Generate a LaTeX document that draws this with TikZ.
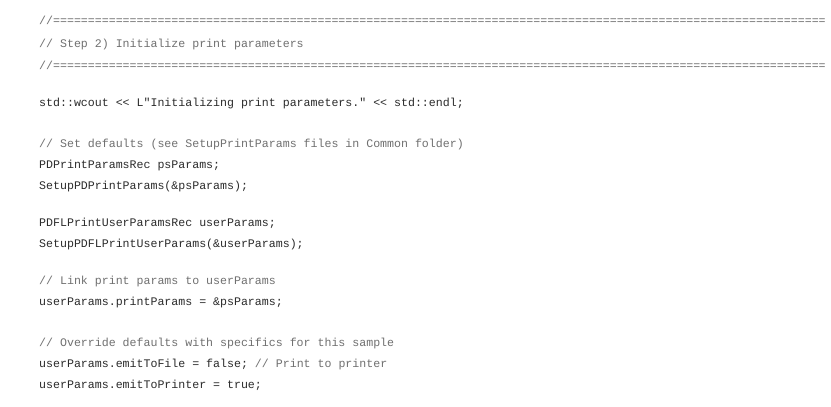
\documentclass[tikz,border=0pt]{standalone}
\usepackage{fontspec}
\newfontfamily\codefont{Liberation Mono}
\definecolor{cmtgray}{HTML}{707070}
\definecolor{codedark}{HTML}{2B2B2B}
\tikzset{
  codeline/.style={anchor=base west, inner sep=0pt, text=codedark, font=\codefont\fontsize{11.6}{14}\selectfont},
  cmtline/.style={codeline, text=cmtgray},
}
\begin{document}
\begin{tikzpicture}[x=1pt,y=-1pt]
  \useasboundingbox[fill=white] (0,0) rectangle (831,407);
  \clip (0,0) rectangle (824,407);
  % header comment
  \node[cmtline] (l1) at (39,24) {//===============================================================================================================};
  \node[cmtline] (l2) at (39,47) {// Step 2) Initialize print parameters};
  \node[cmtline] (l3) at (39,69) {//===============================================================================================================};
  % code
  \node[codeline] (l4) at (39,106) {std::wcout << L"Initializing print parameters." << std::endl;};
  \node[cmtline] (l5) at (39,147) {// Set defaults (see SetupPrintParams files in Common folder)};
  \node[codeline] (l6) at (39,168) {PDPrintParamsRec psParams;};
  \node[codeline] (l7) at (39,189) {SetupPDPrintParams(\&psParams);};
  \node[codeline] (l8) at (39,226) {PDFLPrintUserParamsRec userParams;};
  \node[codeline] (l9) at (39,247) {SetupPDFLPrintUserParams(\&userParams);};
  \node[cmtline] (l10) at (39,284) {// Link print params to userParams};
  \node[codeline] (l11) at (39,305) {userParams.printParams = \&psParams;};
  \node[cmtline] (l12) at (39,346) {// Override defaults with specifics for this sample};
  \node[codeline] (l13) at (39,367) {userParams.emitToFile = false; {\color{cmtgray}// Print to printer}};
  \node[codeline] (l14) at (39,388) {userParams.emitToPrinter = true;};
\end{tikzpicture}
\end{document}
